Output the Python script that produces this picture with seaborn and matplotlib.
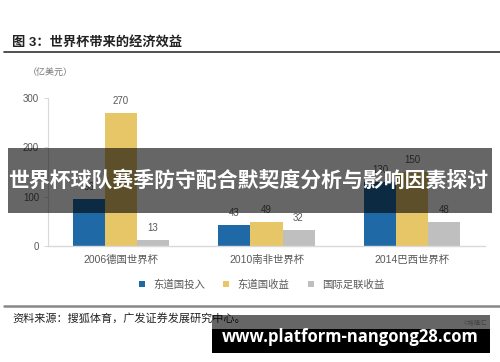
import pandas as pd
import matplotlib.pyplot as plt
import seaborn as sns
from matplotlib.patches import Rectangle
from matplotlib.lines import Line2D

# 数据
cups = ["2006德国世界杯", "2010南非世界杯", "2014巴西世界杯"]
series = ["东道国投入", "东道国收益", "国际足联收益"]
host_invest = [96, 43, 130]
host_income = [270, 49, 150]
fifa_income = [13, 32, 48]
colors = ["#1f6aa6", "#e6c667", "#bfbfbf"]

df = pd.DataFrame({
    "cup": cups * 3,
    "series": [series[0]] * 3 + [series[1]] * 3 + [series[2]] * 3,
    "value": host_invest + host_income + fifa_income,
})

sns.set_style("white")
plt.rcParams["font.family"] = ["Liberation Sans", "Noto Sans CJK SC", "DejaVu Sans"]

fig = plt.figure(figsize=(5, 3.62), dpi=100)
ax = fig.add_axes([0.096, 0.320, 0.874, 0.410])

sns.barplot(data=df, x="cup", y="value", hue="series", palette=colors,
            width=0.66, linewidth=0, saturation=1, ax=ax, legend=False)

for c in ax.containers:
    ax.bar_label(c, padding=5, fontsize=7, color="#595959")

ax.set_xlim(-0.5, 2.5)
ax.set_ylim(0, 300)
ax.set_yticks([0, 100, 200, 300])
ax.set_xlabel("")
ax.set_ylabel("")
ax.tick_params(axis="y", labelsize=7, colors="#595959", length=3, width=0.6, direction="out", left=True)
ax.tick_params(axis="x", labelsize=7.5, colors="#595959", length=0, pad=6)
ax.yaxis.set_tick_params(color="#d0d0d0")
for s in ["top", "right"]:
    ax.spines[s].set_visible(False)
ax.spines["left"].set_color("#d9d9d9")
ax.spines["bottom"].set_color("#d9d9d9")
ax.spines["left"].set_linewidth(0.8)
ax.spines["bottom"].set_linewidth(1.0)

# 图例
handles = [Line2D([0], [0], marker="s", linestyle="", markersize=5,
                  markerfacecolor=col, markeredgewidth=0) for col in colors]
fig.legend(handles, series, loc="center", bbox_to_anchor=(0.516, 0.213), ncol=3,
           frameon=False, fontsize=7.5, handletextpad=0.1, columnspacing=1.0,
           labelcolor="#595959")

# 标题与来源
fig.text(0.024, 0.882, "图 3：世界杯带来的经济效益", fontsize=9.5, fontweight="bold",
         color="#222222", va="center")
fig.add_artist(Line2D([0.008, 1.0], [0.856, 0.856], color="#333333", lw=1.2))
fig.text(0.056, 0.800, "（亿美元）", fontsize=6.5, color="#777777", va="center")
fig.add_artist(Line2D([0.008, 1.0], [0.155, 0.155], color="#888888", lw=1.8))
fig.text(0.024, 0.120, "资料来源：搜狐体育，广发证券发展研究中心。", fontsize=8,
         color="#222222", va="center")
fig.text(0.975, 0.108, "©格隆汇", fontsize=4.5, color="#aaaaaa", ha="right", va="center")

# 标题横幅
fig.add_artist(Rectangle((0.016, 0.412), 0.968, 0.180, transform=fig.transFigure,
                         facecolor="black", alpha=0.6, edgecolor="none", zorder=10))
fig.text(0.496, 0.502, "世界杯球队赛季防守配合默契度分析与影响因素探讨", fontsize=15,
         fontweight="bold", color="white", ha="center", va="center", zorder=11,
         family=["Noto Sans CJK SC", "DejaVu Sans"])

# 底部网址横幅
fig.add_artist(Rectangle((0.424, 0.091), 0.556, 0.039, transform=fig.transFigure,
                         facecolor="black", alpha=0.6, edgecolor="none", zorder=10))
fig.add_artist(Rectangle((0.424, 0.025), 0.556, 0.066, transform=fig.transFigure,
                         facecolor="black", edgecolor="none", zorder=10))
fig.text(0.701, 0.068, "www.platform-nangong28.com", fontsize=12, fontweight="bold",
         color="white", ha="center", va="center", zorder=11,
         family=["Open Sans", "DejaVu Sans"])

fig.savefig("out.png", dpi=100)
